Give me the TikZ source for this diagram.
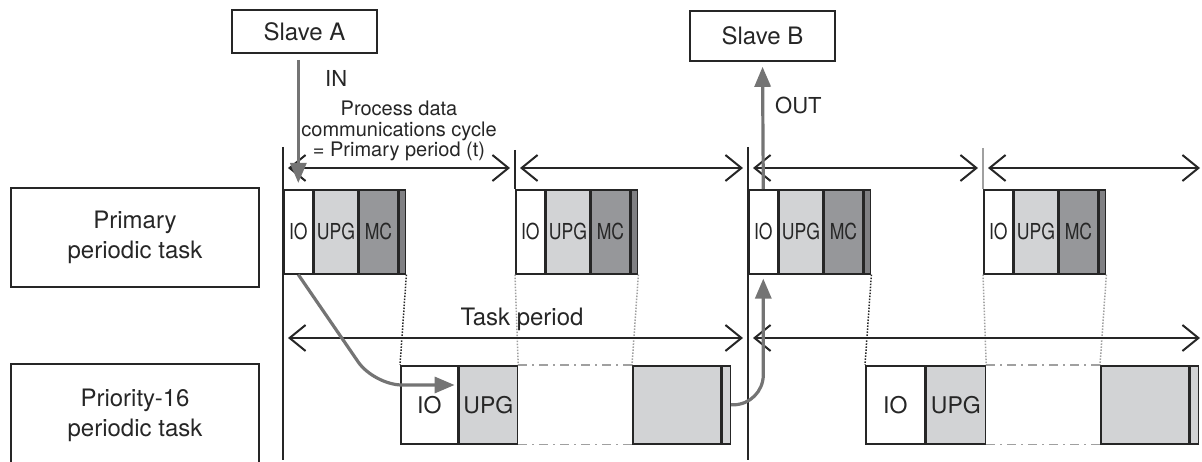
\documentclass[tikz,border=0pt]{standalone}
\usepackage{fontspec}
\usepackage{graphicx}
\setmainfont{TeX Gyre Heros}
\usetikzlibrary{arrows.meta}
\definecolor{ink}{HTML}{262626}
\definecolor{lightfill}{HTML}{D2D3D5}
\definecolor{darkfill}{HTML}{96979A}
\definecolor{flow}{HTML}{747474}
\definecolor{guide}{HTML}{A0A0A0}
\newcommand{\sz}[1]{\fontsize{#1}{#1}\selectfont}
\newcommand{\narrow}[1]{\scalebox{0.8}[1]{#1}}
\tikzset{
  labelbox/.style={draw=ink, line width=1.6pt, minimum width=248pt, align=center,
    inner sep=0pt, text=ink, font=\fontsize{24}{30}\selectfont},
  slavebox/.style={draw=ink, line width=1.6pt, minimum width=145pt, minimum height=43pt,
    inner sep=0pt, text=ink, font=\sz{24}},
  cell/.style={draw=ink, line width=1.6pt, anchor=north west, inner sep=0pt, text=ink},
  maincell/.style={cell, minimum height=84pt, font=\sz{22}},
  subcell/.style={cell, minimum height=78pt, font=\sz{23}},
  period/.style={draw=ink, line width=2pt, >={Straight Barb[length=16pt,width=26pt]}, <->},
  boundary/.style={draw=ink, line width=1.3pt},
  softboundary/.style={draw=guide, line width=1.3pt},
  flowarrow/.style={draw=flow, line width=3.2pt, -{Triangle[length=20pt,width=16pt]}},
  handoff/.style={draw=ink, line width=1.5pt, dash pattern=on 1.5pt off 1.5pt},
  softhandoff/.style={draw=guide, line width=1.5pt, dash pattern=on 1.5pt off 1.5pt},
  idle/.style={draw=guide, line width=1.6pt, dash pattern=on 9pt off 5pt on 2pt off 5pt},
  caption/.style={text=ink, inner sep=0pt}
}
\begin{document}
\begin{tikzpicture}[x=1pt, y=-1pt]
\useasboundingbox (0,0) rectangle (1202,462);
\clip (0,0) rectangle (1202,462);

% slaves
\node[slavebox] (slaveA) at (304.5,31.5) {Slave A};
\node[slavebox, minimum height=50pt] (slaveB) at (762.5,36) {Slave B};

% task labels
\node[labelbox, minimum height=99pt] (primary) at (135,237.5) {Primary\\periodic task};
\node[labelbox, minimum height=102pt] (priority) at (135,415) {Priority-16\\periodic task};

% primary periodic task executions
\foreach \k/\x in {1/283,2/515,3/748,4/983}{
  \node[maincell, fill=white, minimum width=29pt] (io\k) at (\x,189) {\narrow{IO}};
  \node[maincell, fill=lightfill, minimum width=43pt] (upg\k) at (io\k.north east) {\narrow{UPG}};
  \node[maincell, fill=darkfill, minimum width=39pt] (mc\k) at (upg\k.north east) {\narrow{MC}};
  \node[maincell, fill=darkfill!85!black, minimum width=6pt] (tail\k) at (mc\k.north east) {};
}

% priority-16 periodic task executions
\node[subcell, fill=white, minimum width=57pt] (pio1) at (400,365) {IO};
\node[subcell, fill=lightfill, minimum width=58pt] (pupg1) at (pio1.north east) {UPG};
\node[subcell, fill=lightfill, minimum width=88pt] (pblk2) at (632,365) {};
\node[subcell, fill=lightfill, minimum width=8pt] (ptail2) at (pblk2.north east) {};
\node[subcell, fill=white, minimum width=59pt] (pio3) at (865,365) {IO};
\node[subcell, fill=lightfill, minimum width=59pt] (pupg3) at (pio3.north east) {UPG};
\node[subcell, fill=lightfill, minimum width=88pt] (pblk4) at (1100,365) {};
\node[subcell, fill=lightfill, minimum width=8pt] (ptail4) at (pblk4.north east) {};

% period boundaries
\draw[boundary] (io1.north west |- 0,147) -- (io1.north west |- 0,460);
\draw[boundary] (io2.north west |- 0,150) -- (io2.north west);
\draw[boundary] (io3.north west |- 0,147) -- (io3.north west |- 0,460);
\draw[softboundary] (io4.north west |- 0,148) -- (io4.north west);

% hand-over guides
\draw[handoff] (tail1.south east) -- (pio1.north west);
\draw[softhandoff] (io2.south west) -- (pupg1.north east);
\draw[softhandoff] (tail2.south east) -- (pblk2.north west);
\draw[handoff] (tail3.south east) -- (pio3.north west);
\draw[softhandoff] (io4.south west) -- (pupg3.north east);
\draw[softhandoff] (tail4.south east) -- (pblk4.north west);

% idle stretches of the priority-16 task
\draw[idle] (pupg1.north east) -- (pblk2.north west);
\draw[idle] (pupg1.south east) -- (pblk2.south west);
\draw[idle] (pupg3.north east) -- (pblk4.north west);
\draw[idle] (pupg3.south east) -- (pblk4.south west);

% communications cycle spans
\draw[period] (288,168) -- (510,168);
\draw[period] (520,168) -- (743,168);
\draw[period] (753,168) -- (978,168);
\draw[period] (988,168) -- (1200,168);

% task period spans
\draw[period] (288,338) -- (743,338);
\draw[period] (753,338) -- (1200,338);

% texts
\node[caption, font=\fontsize{20}{20.5}\selectfont, align=center] (cycle) at (399,131)
  {Process data\\communications cycle\\= Primary period (t)};
\node[caption, font=\sz{24}, anchor=base] (taskperiod) at (522,325) {Task period};
\node[caption, font=\sz{22}, anchor=base west] (inlabel) at (325,87) {IN};
\node[caption, font=\sz{22}, anchor=base west] (outlabel) at (775,114) {OUT};

% data flow
\draw[flowarrow, shorten <=6pt, shorten >=6pt] (slaveA.south -| io1.north) -- (io1.north);
\draw[flowarrow, rounded corners=28pt, shorten >=4pt] (io1.south) -- (374,385) -- (pupg1.west |- 0,385);
\draw[flowarrow, rounded corners=30pt, shorten >=4pt] (ptail2.east) -| (io3.south);
\draw[flowarrow, shorten >=5pt] (io3.north) -- (slaveB.south);
\end{tikzpicture}
\end{document}
